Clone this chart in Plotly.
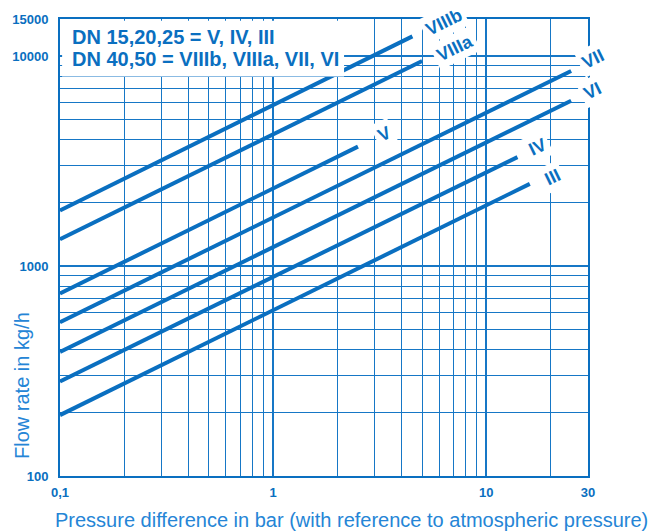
import math
import plotly.graph_objects as go

# ---------------- data ----------------
curve_names = ["VIIIb", "VIIIa", "V", "VII", "VI", "IV", "III"]
pressure_start = [0.1, 0.1, 0.1, 0.1, 0.1, 0.1, 0.1]
pressure_end = [4.5, 5.0, 2.5, 25.0, 25.0, 14.0, 16.0]
flow_start = [1840, 1340, 740, 540, 390, 282, 195]
flow_end = [12400, 9460, 3700, 8480, 6120, 3300, 2460]

x_tick_vals = [0.1, 1, 10, 30]
x_tick_text = ["0,1", "1", "10", "30"]
x_minor_vals = [0.2, 0.3, 0.4, 0.5, 0.6, 0.7, 0.8, 0.9, 2, 3, 4, 5, 6, 7, 8, 9, 20]
y_tick_vals = [100, 1000, 10000, 15000]
y_tick_text = ["100", "1000", "10000", "15000"]
y_minor_vals = [200, 300, 400, 500, 600, 700, 800, 900,
                2000, 3000, 4000, 5000, 6000, 7000, 8000, 9000]

legend_lines = ["DN 15,20,25 = V, IV, III", "DN 40,50 = VIIIb, VIIIa, VII, VI"]

# ---------------- styling ----------------
BLUE = "#0a6fc0"
GRID = "#1677c6"
TITLE_BLUE = "#2585d6"
FONT = "Liberation Sans, Arial, sans-serif"

# label offsets from line end (pixels, right / up)
label_dx = [32, 33, 26, 22, 21, 20, 23]
label_dy = [14, 13, 13, 12, 10, 10, 7]

fig = go.Figure()
for name, x0, x1, y0, y1 in zip(curve_names, pressure_start, pressure_end, flow_start, flow_end):
    fig.add_trace(go.Scatter(x=[x0, x1], y=[y0, y1], mode="lines", name=name,
                             line=dict(color=BLUE, width=4), showlegend=False))

for name, x1, y1, dx, dy in zip(curve_names, pressure_end, flow_end, label_dx, label_dy):
    fig.add_annotation(x=math.log10(x1), y=math.log10(y1), xref="x", yref="y",
                       text="<b>%s</b>" % name, showarrow=False, textangle=-26,
                       xshift=dx, yshift=dy, xanchor="center", yanchor="middle",
                       bgcolor="white", borderpad=3,
                       font=dict(family=FONT, size=18, color=BLUE))

# white panel behind the text block
fig.add_shape(type="rect", xref="paper", yref="paper", x0=0.004, x1=0.538, y0=0.874, y1=0.996,
              fillcolor="white", line=dict(width=0), layer="above")

legend_y = [0.961, 0.913]
for txt, yy in zip(legend_lines, legend_y):
    fig.add_annotation(x=0.0188, y=yy, xref="paper", yref="paper", text="<b>%s</b>" % txt,
                       showarrow=False, xanchor="left", yanchor="middle",
                       font=dict(family=FONT, size=20, color=BLUE))

# axis titles
fig.add_annotation(x=-0.073, y=0.198, xref="paper", yref="paper", text="Flow rate in kg/h",
                   textangle=-90, showarrow=False, xanchor="center", yanchor="middle",
                   font=dict(family=FONT, size=20, color=TITLE_BLUE))
fig.add_annotation(x=0.553, y=-0.096, xref="paper", yref="paper",
                   text="Pressure difference in bar (with reference to atmospheric pressure)",
                   showarrow=False, xanchor="center", yanchor="middle",
                   font=dict(family=FONT, size=20, color=TITLE_BLUE))

fig.update_xaxes(type="log", range=[-1, math.log10(30)],
                 tickmode="array", tickvals=x_tick_vals, ticktext=x_tick_text,
                 showgrid=True, gridcolor=GRID, gridwidth=2,
                 minor=dict(tickvals=x_minor_vals, showgrid=True, gridcolor=GRID, gridwidth=1),
                 showline=True, mirror=True, linecolor=BLUE, linewidth=2,
                 ticks="", ticklabelstandoff=3,
                 tickfont=dict(family=FONT, size=13, color=BLUE, weight="bold"),
                 zeroline=False)
fig.update_yaxes(type="log", range=[2, math.log10(15000)],
                 tickmode="array", tickvals=y_tick_vals, ticktext=y_tick_text,
                 showgrid=True, gridcolor=GRID, gridwidth=1.5,
                 minor=dict(tickvals=y_minor_vals, showgrid=True, gridcolor=GRID, gridwidth=1),
                 showline=True, mirror=True, linecolor=BLUE, linewidth=2,
                 ticks="", ticklabelstandoff=7,
                 tickfont=dict(family=FONT, size=13, color=BLUE, weight="bold"),
                 zeroline=False)

fig.update_layout(width=655, height=532, margin=dict(l=56, r=67, t=17, b=56),
                  paper_bgcolor="white", plot_bgcolor="white", showlegend=False)

fig.write_html("out.html", config={"displayModeBar": False},
               post_script="document.body.style.margin='0px';")
